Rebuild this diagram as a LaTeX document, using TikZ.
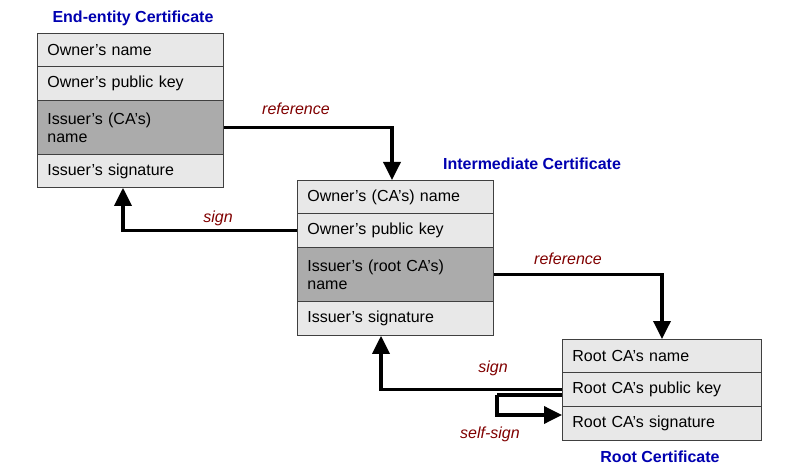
\documentclass[tikz,border=0pt]{standalone}
\usepackage{fontspec}
\setmainfont{Liberation Sans}
\usetikzlibrary{arrows.meta}
\definecolor{lg}{HTML}{E8E8E8}
\definecolor{dg}{HTML}{ABABAB}
\definecolor{ttl}{HTML}{0000B0}
\definecolor{lbl}{HTML}{800000}
\tikzset{
 cell/.style={draw=black!75,line width=0.8pt,fill=lg,inner xsep=10pt,inner ysep=0pt,align=left,font=\fontsize{16}{18}\selectfont,anchor=north west},
 dark/.style={fill=dg},
 ttlstyle/.style={text=ttl,font=\bfseries\fontsize{16}{18}\selectfont},
 lblstyle/.style={text=lbl,font=\itshape\fontsize{16}{18}\selectfont},
 conn/.style={line width=3.5pt,-{Triangle[length=18pt,width=17pt]}},
}
\newcommand{\mkcell}[6]{\node[cell,#6,minimum width=#3pt,minimum height=#4pt,text width=#3pt-20pt] (#1) at (#2) {#5};}
\begin{document}
\begin{tikzpicture}[x=1pt,y=-1pt]
\useasboundingbox (0,0) rectangle (800,470);
% End-entity
\node[ttlstyle] at (133,18) {End-entity Certificate};
\mkcell{e1}{37,33}{186}{33}{Owner's name}{}
\mkcell{e2}{37,66}{186}{34}{Owner's public key}{}
\mkcell{e3}{37,100}{186}{54}{Issuer's (CA's)\\name}{dark}
\mkcell{e4}{37,154}{186}{33}{Issuer's signature}{}
% Intermediate
\node[ttlstyle] at (532,164) {Intermediate Certificate};
\mkcell{i1}{297,180}{196}{33}{Owner's (CA's) name}{}
\mkcell{i2}{297,213}{196}{34}{Owner's public key}{}
\mkcell{i3}{297,247}{196}{54}{Issuer's (root CA's)\\name}{dark}
\mkcell{i4}{297,301}{196}{34}{Issuer's signature}{}
% Root
\node[ttlstyle] at (660,457) {Root Certificate};
\mkcell{r1}{562,339}{199}{33}{Root CA's name}{}
\mkcell{r2}{562,372}{199}{34}{Root CA's public key}{}
\mkcell{r3}{562,406}{199}{34}{Root CA's signature}{}
% connectors
\draw[conn] (e3.east) -| (i1.north -| 392,0);
\node[lblstyle] at (296,109) {reference};
\draw[conn] (i2.west) -| (e4.south -| 123,0);
\node[lblstyle] at (218,218) {sign};
\draw[conn] (i3.east) -| (r1.north -| 662,0);
\node[lblstyle] at (568,259) {reference};
\draw[conn] (r2.west) -| (i4.south -| 381,0);
\node[lblstyle] at (493,368) {sign};
\coordinate (s1) at (497,395);
\draw[line width=3.5pt] (r2.south west |- 0,395) -- (s1);
\draw[conn] (s1) |- (r3.west |- 0,415);
\node[lblstyle] at (490,434) {self-sign};
\end{tikzpicture}
\end{document}
